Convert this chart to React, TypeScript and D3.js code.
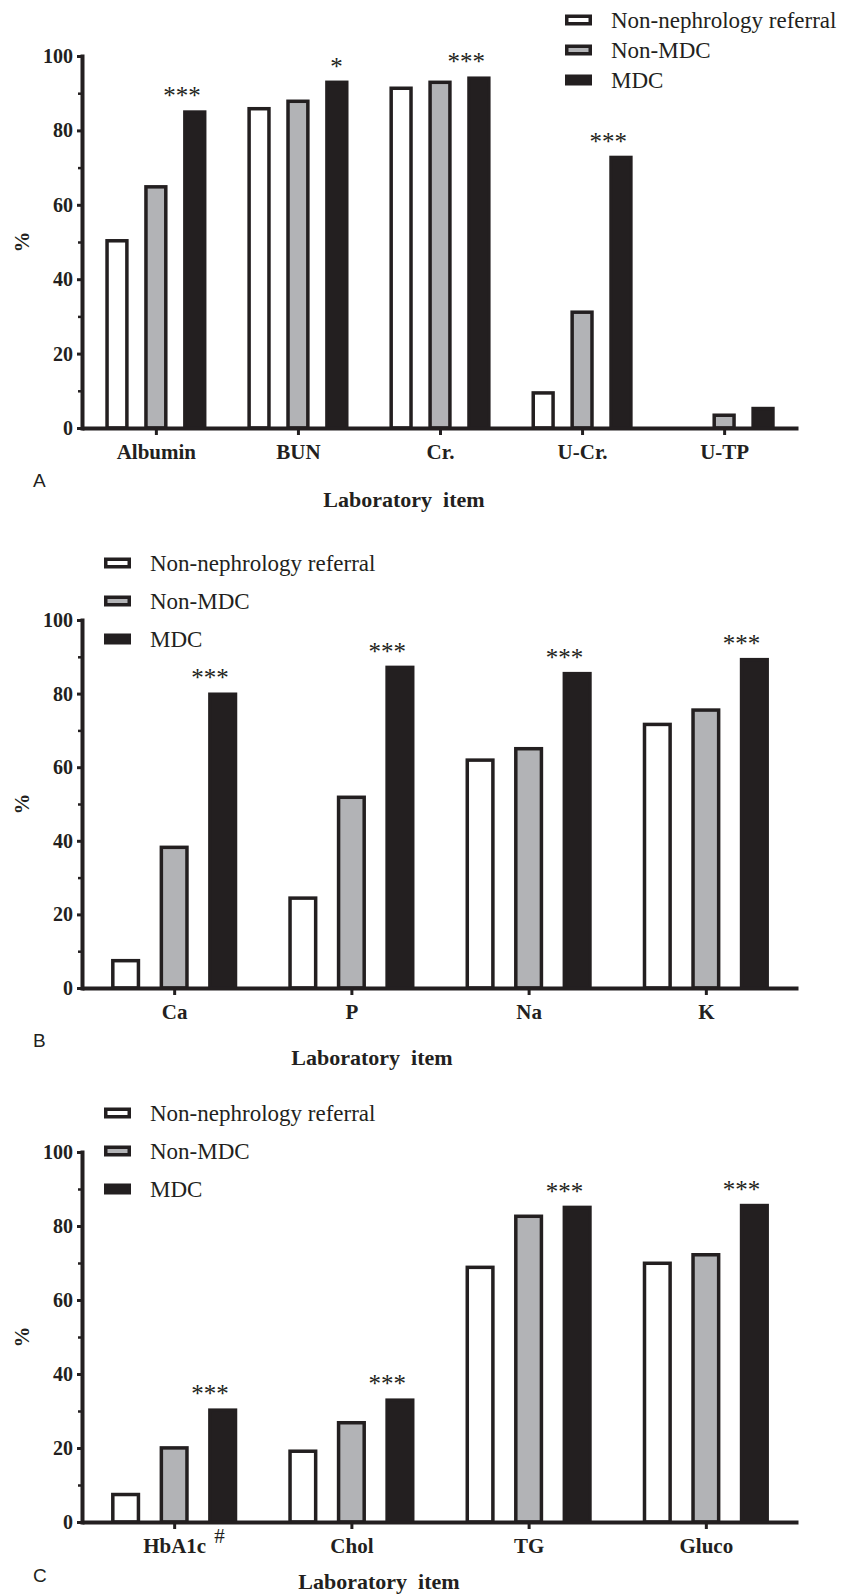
import { useEffect, useRef } from 'react';
import * as d3 from 'd3';

// ---- data ----
const seriesNames = ['Non-nephrology referral', 'Non-MDC', 'MDC'];

const catsA = ['Albumin', 'BUN', 'Cr.', 'U-Cr.', 'U-TP'];
const nonNephA = [50.8, 86.3, 91.8, 9.9, 0];
const nonMdcA = [65.3, 88.3, 93.4, 31.6, 3.9];
const mdcA = [85.4, 93.4, 94.5, 73.2, 5.7];
const sigA = ['***', '*', '***', '***', ''];

const catsB = ['Ca', 'P', 'Na', 'K'];
const nonNephB = [7.9, 24.9, 62.4, 72.1];
const nonMdcB = [38.7, 52.3, 65.5, 76.0];
const mdcB = [80.3, 87.6, 85.9, 89.7];
const sigB = ['***', '***', '***', '***'];

const catsC = ['HbA1c', 'Chol', 'TG', 'Gluco'];
const nonNephC = [7.9, 19.6, 69.3, 70.4];
const nonMdcC = [20.5, 27.3, 83.1, 72.7];
const mdcC = [30.7, 33.4, 85.5, 86.0];
const sigC = ['***', '***', '***', '***'];
const markC = ['#', '', '', ''];

const majorTicks = [0, 20, 40, 60, 80, 100];
const minorTicks = [10, 30, 50, 70, 90];

const INK = '#231f20';
const fills = ['#ffffff', '#b2b3b6', INK];
const SERIF = '"Liberation Serif", "Times New Roman", serif';
const SANS = '"Liberation Sans", Arial, sans-serif';

type PanelCfg = {
  letter: string;
  cats: string[];
  values: number[][];
  sig: string[];
  marks?: string[];
  top: number;
  bottom: number;
  legendX: number;
  legendRows: number[];
  letterY: number;
  titleX: number;
  titleY: number;
};

const panels: PanelCfg[] = [
  {
    letter: 'A', cats: catsA, values: [nonNephA, nonMdcA, mdcA], sig: sigA,
    top: 56, bottom: 428, legendX: 565, legendRows: [20, 50, 80],
    letterY: 487, titleX: 404, titleY: 507,
  },
  {
    letter: 'B', cats: catsB, values: [nonNephB, nonMdcB, mdcB], sig: sigB,
    top: 620, bottom: 988, legendX: 104, legendRows: [563, 601, 639],
    letterY: 1047, titleX: 372, titleY: 1065,
  },
  {
    letter: 'C', cats: catsC, values: [nonNephC, nonMdcC, mdcC], sig: sigC, marks: markC,
    top: 1152, bottom: 1522, legendX: 104, legendRows: [1113, 1151, 1189],
    letterY: 1582, titleX: 379, titleY: 1589,
  },
];

const left = 82;
const right = 798;

const App = () => {
  const svgRef = useRef<SVGSVGElement>(null);

  useEffect(() => {
    if (!svgRef.current) return;
    document.body.style.margin = '0';
    const svg = d3.select(svgRef.current);
    svg.selectAll('*').remove();

    panels.forEach((p) => {
      const g = svg.append('g');
      const y = d3.scaleLinear().domain([0, 100]).range([p.bottom, p.top]);
      const x = d3.scalePoint<string>().domain(p.cats).range([left, right]).padding(0.52);
      const step = x.step();
      const sx = d3
        .scaleBand<string>()
        .domain(seriesNames)
        .range([-0.356 * step, 0.356 * step])
        .paddingInner(0.4);
      const sw = 3.5;

      // bars
      p.values.forEach((vals, si) => {
        vals.forEach((v, ci) => {
          if (v <= 0) return;
          const cx = (x(p.cats[ci]) as number) + (sx(seriesNames[si]) as number);
          g.append('rect')
            .attr('x', cx + sw / 2)
            .attr('y', y(v) + sw / 2)
            .attr('width', sx.bandwidth() - sw)
            .attr('height', y(0) - y(v) - sw / 2)
            .attr('fill', fills[si])
            .attr('stroke', INK)
            .attr('stroke-width', sw);
        });
      });

      // significance stars above MDC bars
      p.sig.forEach((s, ci) => {
        if (!s) return;
        const cx = (x(p.cats[ci]) as number) + (sx('MDC') as number) + sx.bandwidth() / 2;
        g.append('text')
          .attr('x', cx + 6)
          .attr('y', y(p.values[2][ci]) - 6)
          .attr('text-anchor', 'end')
          .attr('font-family', SERIF)
          .attr('font-size', 25)
          .attr('fill', INK)
          .text(s);
      });

      // y axis
      const yAxis = g
        .append('g')
        .attr('transform', `translate(${left},0)`)
        .call(
          d3.axisLeft(y).tickValues(majorTicks).tickSize(5).tickSizeOuter(0).tickPadding(4)
            .tickFormat((d) => String(d))
        );
      yAxis.select('.domain').attr('stroke', INK).attr('stroke-width', 4).attr('stroke-linecap', 'square');
      yAxis.selectAll('.tick line').attr('stroke', INK).attr('stroke-width', 3);
      yAxis.selectAll('.tick text')
        .attr('font-family', SERIF)
        .attr('font-size', 20)
        .attr('font-weight', 'bold')
        .attr('fill', INK);

      const yMinor = g
        .append('g')
        .attr('transform', `translate(${left},0)`)
        .call(d3.axisLeft(y).tickValues(minorTicks).tickSize(4).tickSizeOuter(0).tickFormat(() => ''));
      yMinor.select('.domain').remove();
      yMinor.selectAll('.tick line').attr('stroke', INK).attr('stroke-width', 2.5);

      // x axis
      const xAxis = g
        .append('g')
        .attr('transform', `translate(0,${p.bottom})`)
        .call(d3.axisBottom(x).tickSize(7).tickSizeOuter(0).tickPadding(9));
      xAxis.select('.domain').attr('stroke', INK).attr('stroke-width', 4);
      xAxis.selectAll('.tick line').attr('stroke', INK).attr('stroke-width', 3);
      xAxis.selectAll('.tick text')
        .attr('font-family', SERIF)
        .attr('font-size', 21)
        .attr('font-weight', 'bold')
        .attr('fill', INK);

      // superscript marks on category labels
      if (p.marks) {
        p.marks.forEach((m, ci) => {
          if (!m) return;
          g.append('text')
            .attr('x', (x(p.cats[ci]) as number) + 40)
            .attr('y', p.bottom + 21)
            .attr('font-family', SERIF)
            .attr('font-size', 21)
            .attr('fill', INK)
            .text(m);
        });
      }

      // y title
      g.append('text')
        .attr('transform', `translate(29,${(p.top + p.bottom) / 2}) rotate(-90)`)
        .attr('text-anchor', 'middle')
        .attr('font-family', SERIF)
        .attr('font-size', 21)
        .attr('font-weight', 'bold')
        .attr('fill', INK)
        .text('%');

      // x title
      g.append('text')
        .attr('x', p.titleX)
        .attr('y', p.titleY)
        .attr('text-anchor', 'middle')
        .attr('font-family', SERIF)
        .attr('font-size', 22)
        .attr('font-weight', 'bold')
        .attr('fill', INK)
        .style('white-space', 'pre')
        .text('Laboratory  item');

      // panel letter
      g.append('text')
        .attr('x', 33)
        .attr('y', p.letterY)
        .attr('font-family', SANS)
        .attr('font-size', 19)
        .attr('fill', INK)
        .text(p.letter);

      // legend
      seriesNames.forEach((name, si) => {
        const cy = p.legendRows[si];
        g.append('rect')
          .attr('x', p.legendX + sw / 2)
          .attr('y', cy - 5.5 + sw / 2)
          .attr('width', 27 - sw)
          .attr('height', 11 - sw)
          .attr('fill', fills[si])
          .attr('stroke', INK)
          .attr('stroke-width', sw);
        g.append('text')
          .attr('x', p.legendX + 46)
          .attr('y', cy + 7.5)
          .attr('font-family', SERIF)
          .attr('font-size', 23)
          .attr('fill', INK)
          .text(name);
      });
    });
  }, []);

  return <svg ref={svgRef} width={846} height={1596} style={{ display: 'block', background: '#fff' }} />;
};

export default App;
